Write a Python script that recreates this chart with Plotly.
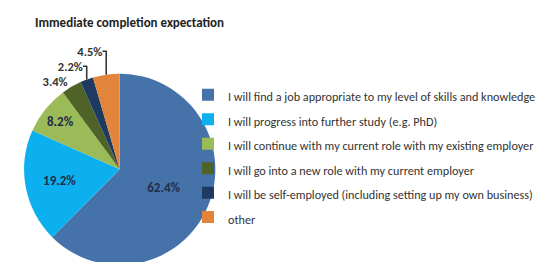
import plotly.graph_objects as go

title_text = "Immediate completion expectation"
categories = [
    "I will find a job appropriate to my level of skills and knowledge",
    "I will progress into further study (e.g. PhD)",
    "I will continue with my current role with my existing employer",
    "I will go into a new role with my current employer",
    "I will be self-employed (including setting up my own business)",
    "other",
]
values = [62.4, 19.2, 8.2, 3.4, 2.2, 4.5]
colors = ["#4573A9", "#0DB0EE", "#9BBB59", "#4F6228", "#1F3A60", "#E2843B"]
text_positions = ["inside", "inside", "inside", "outside", "outside", "outside"]

FONT = "Carlito, Calibri, Lato, sans-serif"
legend_labels = ['<span style="font-size:12.2px">%s</span>' % c for c in categories]

W, H = 550, 262
cx, cy, r = 111.7, 164.5, 97.5

fig = go.Figure(go.Pie(
    labels=legend_labels,
    values=values,
    sort=False,
    direction="clockwise",
    rotation=0,
    marker=dict(colors=colors, line=dict(width=0)),
    texttemplate="<b>%{value:.1f}%</b>",
    textposition=text_positions,
    insidetextorientation="horizontal",
    insidetextfont=dict(family=FONT, size=13, color="#1F2D4A"),
    outsidetextfont=dict(family=FONT, size=12.5, color="#333333"),
    domain=dict(x=[(cx - r) / W, (cx + r) / W], y=[0, (H - (cy - r)) / H]),
    hoverinfo="label+value",
))

fig.update_layout(
    width=W, height=H,
    margin=dict(l=0, r=0, t=0, b=0),
    paper_bgcolor="white",
    plot_bgcolor="white",
    font=dict(family=FONT, color="#222222"),
    title=dict(text="<b>" + title_text + "</b>", x=27 / W, xanchor="left",
               y=1 - 15 / H, yanchor="middle", xref="paper", yref="paper",
               font=dict(family=FONT, size=13, color="#222222")),
    showlegend=True,
    legend=dict(x=180 / W, xanchor="left", y=1 - 71 / H, yanchor="top",
                font=dict(family=FONT, size=16.5, color="#333333"),
                bgcolor="rgba(0,0,0,0)", borderwidth=0),
)

fig.write_html("out.html")
